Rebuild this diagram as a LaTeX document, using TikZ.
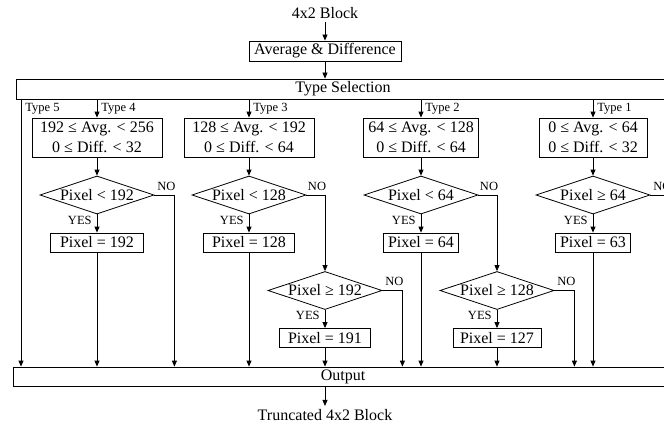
\documentclass[tikz,border=0pt]{standalone}
\usepackage{fontspec}
\setmainfont{Liberation Serif}
\usetikzlibrary{arrows.meta,shapes.geometric,calc}
\begin{document}
\begin{tikzpicture}[x=1pt,y=-1pt,
  font=\fontsize{16}{20}\selectfont,
  line width=0.8pt,
  arr/.style={-{Triangle[length=6pt,width=5pt]}},
  rect/.style={draw, rectangle, inner sep=0pt},
  rng/.style={draw, rectangle, align=center, inner sep=0pt, minimum height=39pt},
  pix/.style={draw, rectangle, inner sep=0pt, minimum height=19pt},
  dec/.style={draw, diamond, aspect=3, inner sep=0pt, minimum width=114pt, minimum height=38pt},
  lbl/.style={font=\fontsize{12.5}{14}\selectfont, inner sep=0pt},
  plain/.style={inner sep=3pt}
]
\clip (0,0) rectangle (664,428);
% top
\node[plain] (in) at (325,13) {4x2 Block};
\node[rect, minimum width=152pt, minimum height=20pt] (avg) at (325,51) {Average \& Difference};
\node[rect, minimum width=654pt, minimum height=20pt] (ts) at (343,89) {Type Selection};
\draw[arr] (in.south) -- (avg.north);
\draw[arr] (avg.south) -- (avg.south |- ts.north);

% range boxes
\node[rng, minimum width=130pt] (r4) at (97,137.5) {192 ≤ Avg. < 256\\0 ≤ Diff. < 32};
\node[rng, minimum width=130pt] (r3) at (249,137.5) {128 ≤ Avg. < 192\\0 ≤ Diff. < 64};
\node[rng, minimum width=115pt] (r2) at (421,137.5) {64 ≤ Avg. < 128\\0 ≤ Diff. < 64};
\node[rng, minimum width=108pt] (r1) at (593,137.5) {0 ≤ Avg. < 64\\0 ≤ Diff. < 32};

% decisions
\node[dec] (d4) at (97,195) {Pixel < 192};
\node[dec] (d3) at (249,195) {Pixel < 128};
\node[dec] (d2) at (421,195) {Pixel < 64};
\node[dec] (d1) at (593,195) {Pixel ≥ 64};

% pixel boxes
\node[pix, minimum width=93pt] (p4) at (97,242.5) {Pixel = 192};
\node[pix, minimum width=91pt] (p3) at (249,242.5) {Pixel = 128};
\node[pix, minimum width=75pt] (p2) at (421,242.5) {Pixel = 64};
\node[pix, minimum width=75pt] (p1) at (593,242.5) {Pixel = 63};

% second decisions
\node[dec] (e3) at (325,290.5) {Pixel ≥ 192};
\node[dec] (e2) at (497,290.5) {Pixel ≥ 128};
\node[pix, minimum width=91pt] (q3) at (325,338) {Pixel = 191};
\node[pix, minimum width=88pt] (q2) at (497,338) {Pixel = 127};

% output
\node[rect, minimum width=660pt, minimum height=19pt] (out) at (343,376.5) {Output};
\node[plain] (tr) at (325,415) {Truncated 4x2 Block};
\draw[arr] (out.south -| tr) -- (tr.north);

% Type 5
\coordinate (t5) at (21,99);
\draw[arr] (t5) -- (t5 |- out.north);
\node[lbl, anchor=west] at (25,109) {Type 5};

% type branches
\foreach \r/\n in {r4/4, r3/3, r2/2, r1/1}{
  \draw[arr] (ts.south -| \r) -- (\r.north);
  \node[lbl, anchor=west] at ($(\r.north)+(4,-9)$) {Type \n};
}
\foreach \r/\d in {r4/d4, r3/d3, r2/d2, r1/d1}{
  \draw[arr] (\r) -- (\d);
}
\foreach \d/\p in {d4/p4, d3/p3, d2/p2, d1/p1, e3/q3, e2/q2}{
  \draw[arr] (\d) -- (\p);
  \node[lbl, anchor=north east] at ($(\d.south)+(-5,1)$) {YES};
  \draw[arr] (\p) -- (\p |- out.north);
}
% NO branches going straight down to output
\foreach \d in {d4, e3, e2, d1}{
  \draw[arr] (\d.east) -- ++(20,0) coordinate (n\d) -- (n\d |- out.north);
  \node[lbl, anchor=south] at ($(n\d)+(-8,-4)$) {NO};
}
% NO branches going to second decisions
\draw[arr] (d3.east) -- (d3.east -| e3) -- (e3.north);
\node[lbl, anchor=south] at ($(d3.east -| e3)+(-8,-4)$) {NO};
\draw[arr] (d2.east) -- (d2.east -| e2) -- (e2.north);
\node[lbl, anchor=south] at ($(d2.east -| e2)+(-8,-4)$) {NO};
\end{tikzpicture}
\end{document}
